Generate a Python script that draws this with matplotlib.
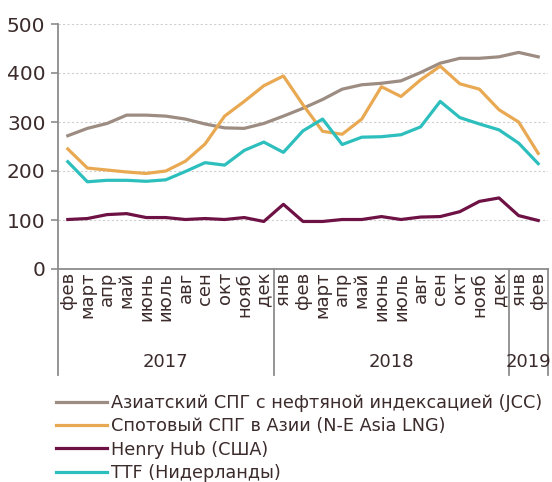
import matplotlib
matplotlib.use("Agg")
import matplotlib.pyplot as plt
from matplotlib.lines import Line2D
import matplotlib.transforms as mtransforms

months = ['фев', 'март', 'апр', 'май', 'июнь', 'июль', 'авг', 'сен', 'окт', 'нояб', 'дек',
          'янв', 'фев', 'март', 'апр', 'май', 'июнь', 'июль', 'авг', 'сен', 'окт', 'нояб', 'дек',
          'янв', 'фев']
years = ['2017', '2018', '2019']
year_counts = [11, 12, 2]

jcc = [272, 287, 297, 314, 314, 312, 306, 296, 288, 287, 297,
       312, 328, 346, 367, 376, 379, 384, 401, 420, 430, 430, 433, 442, 433]
spot = [245, 206, 202, 198, 195, 200, 220, 255, 312, 342, 374,
        394, 335, 281, 275, 306, 372, 352, 386, 414, 378, 367, 325, 300, 236]
henry = [101, 103, 111, 113, 105, 105, 101, 103, 101, 105, 97,
         132, 97, 97, 101, 101, 107, 101, 106, 107, 117, 138, 145, 109, 99]
ttf = [219, 178, 181, 181, 179, 182, 199, 217, 212, 242, 259,
       238, 282, 306, 254, 269, 270, 274, 290, 342, 309, 296, 284, 257, 215]

labels = ['Азиатский СПГ с нефтяной индексацией (JCC)',
          'Спотовый СПГ в Азии (N-E Asia LNG)',
          'Henry Hub (США)',
          'TTF (Нидерланды)']
colors = ['#9c8c82', '#e9a952', '#6e1245', '#2dbfbd']

text_color = '#3b2b2b'
axis_color = '#8c8c8c'

plt.rcParams['font.family'] = ['DejaVu Sans']

fig = plt.figure(figsize=(5.52, 4.82), dpi=100)
ax = fig.add_axes([58 / 552, 1 - 269 / 482, 490 / 552, 245 / 482])

x = list(range(len(months)))
series = [jcc, spot, henry, ttf]
handles = []
for s, c, lab in zip(series, colors, labels):
    h, = ax.plot(x, s, color=c, lw=2.3, label=lab, solid_joinstyle='round')
    handles.append(h)

ax.set_xlim(-0.5, len(months) - 0.5)
ax.set_ylim(0, 500)
ax.set_yticks([0, 100, 200, 300, 400, 500])
ax.yaxis.grid(True, color='#cfcfcf', linestyle=(0, (2, 2)), lw=0.8)
ax.set_axisbelow(True)

for side in ['top', 'right']:
    ax.spines[side].set_visible(False)
for side in ['left', 'bottom']:
    ax.spines[side].set_color(axis_color)
    ax.spines[side].set_linewidth(1.3)

ax.tick_params(axis='y', colors=axis_color, length=5, width=1.2, labelsize=14.5,
               labelcolor=text_color, pad=4)
ax.set_xticks(x)
ax.set_xticklabels(months, rotation=90, fontsize=13, color=text_color)
ax.tick_params(axis='x', length=0, pad=2)

# year separators and labels
trans = mtransforms.blended_transform_factory(ax.transData, ax.transAxes)
bounds = [-0.5]
for n in year_counts:
    bounds.append(bounds[-1] + n)
for b in bounds:
    ax.add_line(Line2D([b, b], [0, -0.433], transform=trans, color=axis_color,
                       lw=1.3, clip_on=False))
for i, yr in enumerate(years):
    cx = (bounds[i] + bounds[i + 1]) / 2
    ax.text(cx, -0.38, yr, transform=trans, ha='center', va='center',
            fontsize=13, color=text_color)

leg = fig.legend(handles=handles, labels=labels, loc='upper left',
                 bbox_to_anchor=(56 / 552, 1 - 394 / 482), frameon=False,
                 fontsize=12.7, handlelength=2.9, handletextpad=0.2,
                 labelspacing=0.3, borderpad=0, borderaxespad=0)
for t in leg.get_texts():
    t.set_color(text_color)

fig.savefig('out.png', dpi=100)
